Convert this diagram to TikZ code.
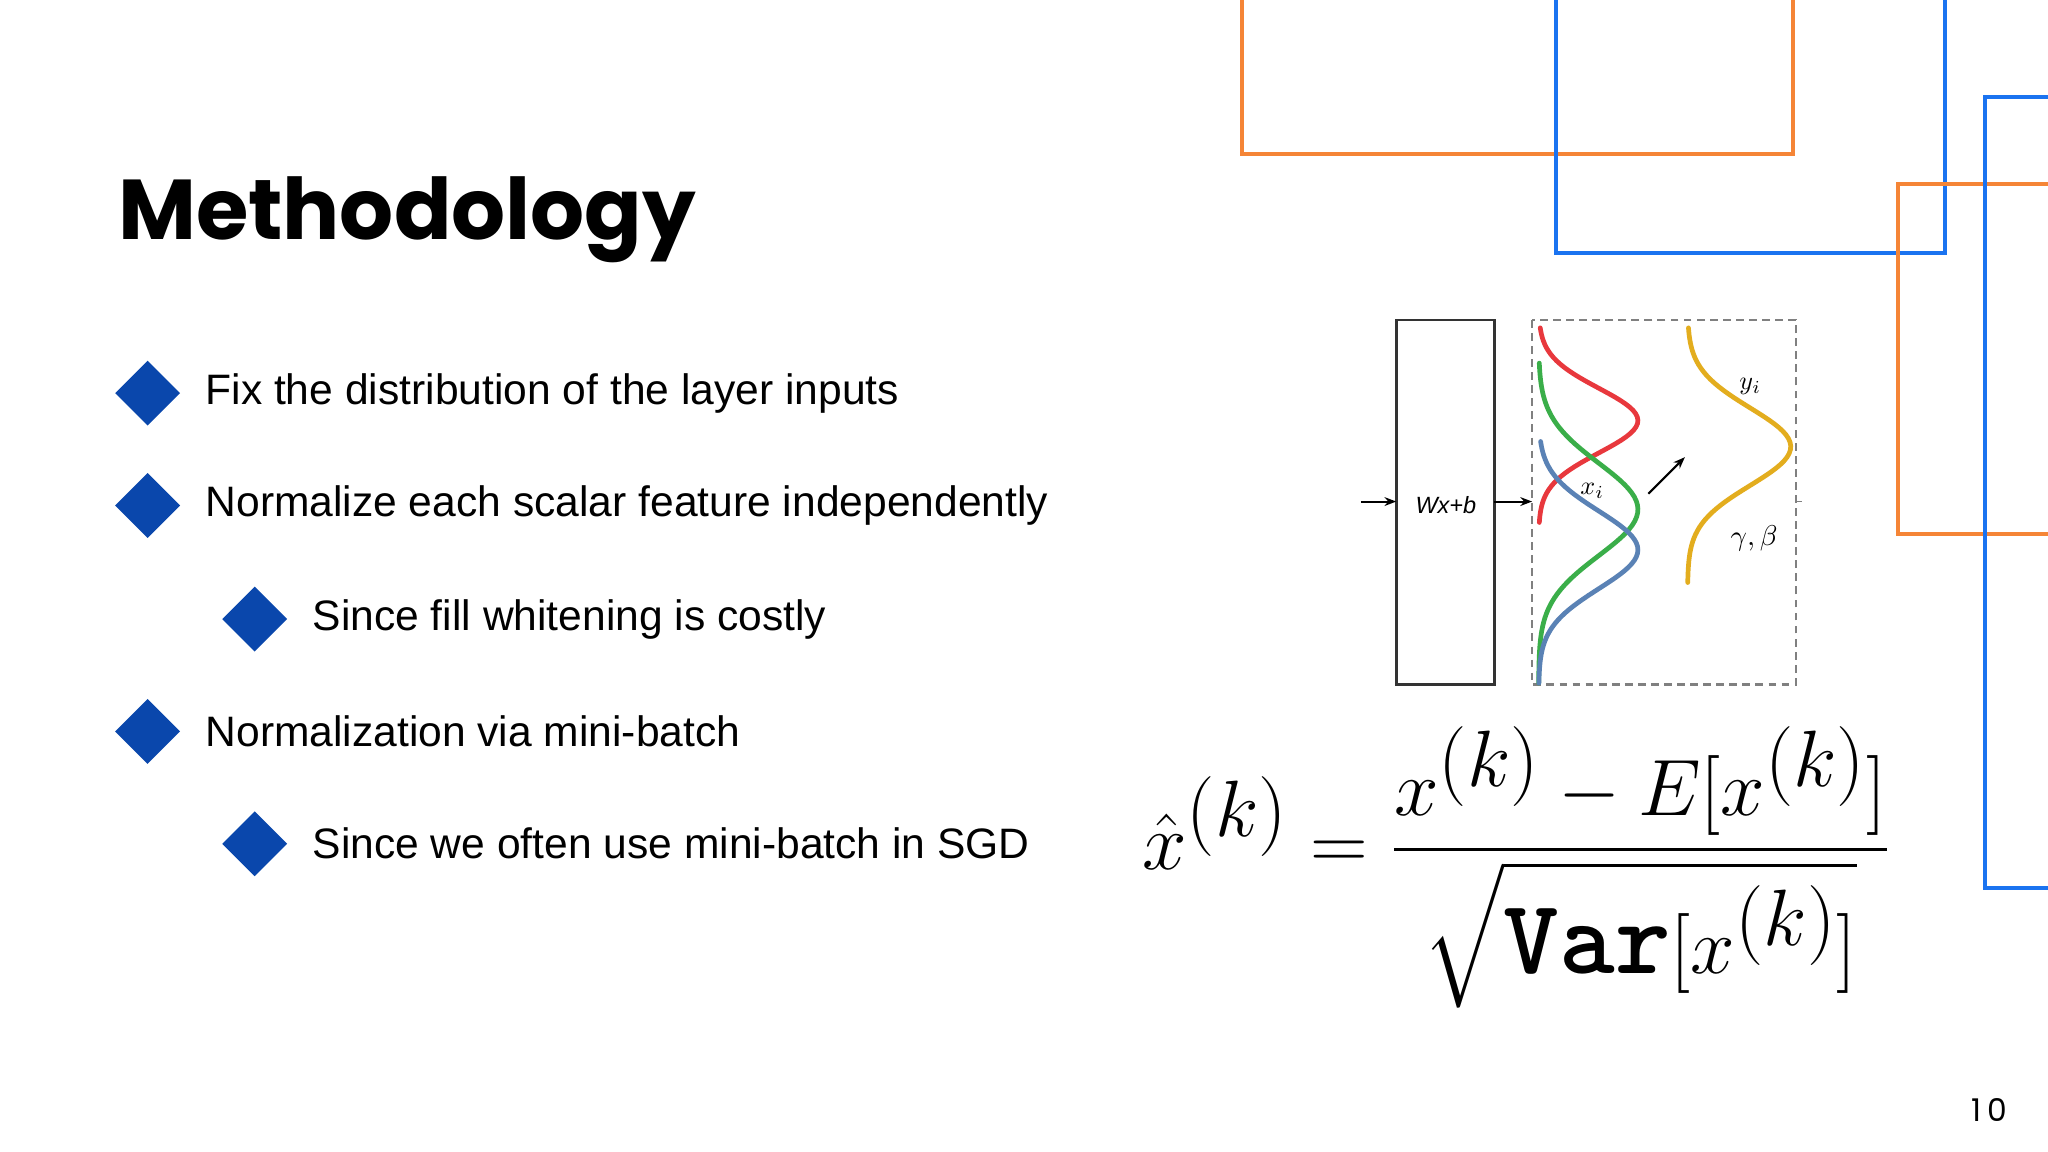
\documentclass[tikz,border=0pt]{standalone}
\usepackage{fontspec}
\setmainfont{Liberation Sans}
\newfontfamily\titlefont{Poppins}
\usepackage{amsmath}
\usepackage{graphicx}
\usetikzlibrary{shapes.geometric,arrows.meta}
\definecolor{bul}{HTML}{0A47AC}
\definecolor{orng}{HTML}{F58536}
\definecolor{blu}{HTML}{1A73F0}
\definecolor{cred}{HTML}{E8383D}
\definecolor{cgreen}{HTML}{3AAE49}
\definecolor{cblue}{HTML}{5A82B5}
\definecolor{cyel}{HTML}{E3AD1E}
\begin{document}
\begin{tikzpicture}[x=0.5pt,y=-0.5pt,
  diam/.style={fill=bul,minimum width=25pt,minimum height=25pt,inner sep=0pt,diamond,draw=none},
  btxt/.style={anchor=west,font=\fontsize{16.3}{19}\selectfont,inner sep=0pt},
  deco/.style={line width=1.6pt},
  curve/.style={line width=1.8pt,line cap=round},
  arr/.style={-{Stealth[length=4.5pt]},line width=0.8pt}]
\useasboundingbox (0,0) rectangle (1568,882);
\fill[white] (0,0) rectangle (1568,882);
\begin{scope}
\clip (0,0) rectangle (1568,882);
\draw[deco,orng] (951,-10) rectangle (1373,118);
\draw[deco,blu] (1191,-10) rectangle (1489,194);
\draw[deco,orng] (1453,141) rectangle (1580,409);
\draw[deco,blu] (1520,74) rectangle (1580,680);
\end{scope}
\node[anchor=base west,inner sep=0pt,font=\titlefont\bfseries\fontsize{32.5}{38}\selectfont] (title) at (90,183) {Methodology};
\foreach \n/\x/\y/\t in {a/113/301/{Fix the distribution of the layer inputs},
  b/113/387/{Normalize each scalar feature independently},
  c/195/474/{Since fill whitening is costly},
  d/113/560/{Normalization via mini-batch},
  e/195/646/{Since we often use mini-batch in SGD}}{
  \node[diam] (d\n) at (\x,\y) {};
  \node[btxt] (t\n) at (\x+44,\y) {\t};
}
% figure
\draw[line width=1pt,draw=black!80] (1069,245) rectangle (1144,524);
\node[inner sep=0pt] (wx) at (1107,387) {\fontsize{9}{10}\selectfont\itshape Wx+b};
\draw[line width=1pt,draw=gray,dash pattern=on 3pt off 2pt] (1173,245) rectangle (1375,524);
\draw[line width=0.6pt,gray] (1375,384) -- (1380,384);
\coordinate (in0) at (1042,384);
\coordinate (in1) at (1069,384);
\coordinate (o0) at (1144,384);
\coordinate (o1) at (1173,384);
\draw[arr] (in0) -- (in1);
\draw[arr] (o0) -- (o1);
\coordinate (g0) at (1262,378);
\coordinate (g1) at (1290,350);
\draw[arr] (g0) -- (g1);
\draw[curve,cred] plot[domain=251:400,samples=60,variable=\t] ({1178+76*exp(-((\t-322)/35)^2)},\t);
\draw[curve,cgreen] plot[domain=278:523,samples=80,variable=\t] ({1178+76*exp(-((\t-390)/50)^2)},\t);
\draw[curve,cblue] plot[domain=338:523,samples=70,variable=\t] ({1178+76*exp(-((\t-421)/42)^2)},\t);
\draw[curve,cyel] plot[domain=251:446,samples=70,variable=\t] ({1292+79*exp(-((\t-342)/42)^2)},\t);
\node[inner sep=0pt] (xi) at (1219,376) {\fontsize{10}{12}\selectfont$x_i$};
\node[inner sep=0pt] (yi) at (1340,296) {\fontsize{10}{12}\selectfont$y_i$};
\node[inner sep=0pt] (gb) at (1343,412) {\fontsize{11}{12}\selectfont$\gamma,\beta$};
% formula
\node[inner sep=0pt] (eq) at (1161,664) {\scalebox{1.23}{\fontsize{33}{40}\selectfont$\displaystyle \hat{x}^{(k)}=\frac{x^{(k)}-E[x^{(k)}]}{\sqrt{\texttt{\bfseries Var}[x^{(k)}]}}$}};
\node[anchor=base,inner sep=0pt,font=\titlefont\fontsize{12}{14}\selectfont] (pg) at (1523,859) {1\,0};
\end{tikzpicture}
\end{document}
